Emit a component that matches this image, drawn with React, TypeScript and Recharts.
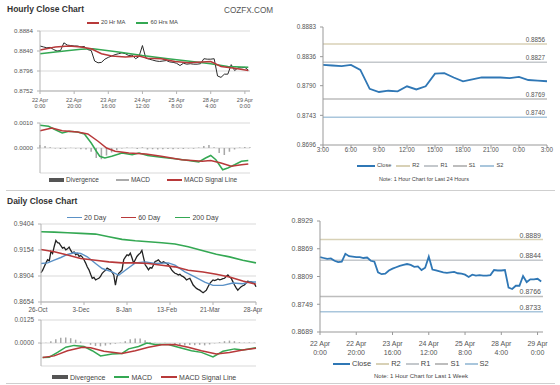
import React from "react";
import { ComposedChart, LineChart, Line, Bar, XAxis, YAxis, CartesianGrid, ReferenceLine } from "recharts";

const FONT = '"Liberation Sans", Arial, sans-serif';

// ---- hourly (last week), sampled every 2 hours from 22 Apr 0:00
const weekStep = 2;
const weekClose = [
  0.8851, 0.8849, 0.8847, 0.8848, 0.8843, 0.884, 0.8841, 0.8858, 0.8853, 0.8852,
  0.8851, 0.8851, 0.8849, 0.885, 0.8843, 0.8841, 0.8818, 0.8814, 0.8815, 0.8822,
  0.8826, 0.8829, 0.8832, 0.8834, 0.8836, 0.8834, 0.883, 0.8831, 0.8823, 0.8828,
  0.8852, 0.8824, 0.8822, 0.882, 0.8818, 0.8817, 0.8818, 0.8819, 0.8816, 0.8815,
  0.8813, 0.8808, 0.8813, 0.8811, 0.8812, 0.8811, 0.8811, 0.8812, 0.8823, 0.8822,
  0.8822, 0.8823, 0.8785, 0.8782, 0.8789, 0.8789, 0.881, 0.8797, 0.8803, 0.8803,
  0.8804, 0.8798,
];
const ma20Hr: [number, number][] = [
  [0, 0.8842], [9, 0.8849], [17, 0.8851], [24, 0.8849], [30, 0.8845], [36, 0.8834],
  [42, 0.8829], [50, 0.8827], [58, 0.8829], [63, 0.8824], [71, 0.8823], [79, 0.8817],
  [87, 0.8814], [95, 0.8816], [100, 0.8817], [106, 0.8806], [114, 0.8802], [122, 0.8797],
];
const ma60Hr: [number, number][] = [
  [0, 0.8834], [9, 0.8838], [17, 0.8841], [24, 0.8844], [31, 0.8845], [46, 0.8838],
  [60, 0.883], [75, 0.8823], [89, 0.8817], [100, 0.8812], [110, 0.8806], [122, 0.8804],
];
const hourDivStep = 3;
const hourDivergence = [
  0.00012, 0.00008, 0.00003, -0.00002, -0.00004, -0.00003, 0.00001, -0.00002, -0.00005, -0.00006,
  -0.00015, -0.0004, -0.00045, -0.0003, -0.00018, -0.00008, -0.00002, 0.00002, 0.00001, -0.00004,
  0.00003, -0.00006, -0.00005, -0.00006, -0.00005, -0.00004, -0.00005, -0.00003, -0.00004, -0.00002,
  -0.00003, 0.00002, 0.00008, 0.00012, 0.00003, -0.0002, -0.00028, -0.00015, -0.00006, 0.00002,
  0.00004, 0.00003,
];
const hourMacd: [number, number][] = [
  [0, 0.00091], [5, 0.00087], [9, 0.00073], [13, 0.0006], [17, 0.00067], [22, 0.00064],
  [26, 0.00056], [30, 0.0002], [33, -0.00013], [35, -0.00033], [38, -0.0004], [42, -0.00033],
  [48, -0.0002], [54, -0.00027], [58, -0.0002], [63, -0.0003], [71, -0.00037], [79, -0.00043],
  [87, -0.0005], [93, -0.00056], [97, -0.0004], [100, -0.0003], [103, -0.00047], [107, -0.00087],
  [110, -0.0008], [114, -0.00067], [118, -0.00053], [122, -0.0005],
];
const hourSignal: [number, number][] = [
  [0, 0.00069], [7, 0.0008], [13, 0.00069], [22, 0.00064], [28, 0.00056], [34, 0.00027],
  [39, 0], [44, -0.00013], [52, -0.0002], [62, -0.00024], [71, -0.00033], [83, -0.00047],
  [95, -0.00053], [100, -0.0005], [106, -0.0006], [112, -0.00073], [118, -0.00067], [122, -0.00064],
];
const weekTicks = [0, 20, 40, 60, 80, 100, 120];
const weekTickLabels = ["22 Apr\n0:00", "22 Apr\n20:00", "23 Apr\n16:00", "24 Apr\n12:00", "25 Apr\n8:00", "28 Apr\n4:00", "29 Apr\n0:00"];

// ---- last 24 hours, hourly from 3:00
const close24h = [
  0.8823, 0.8822, 0.8821, 0.8823, 0.8815, 0.8785, 0.878, 0.8782, 0.8781, 0.8789, 0.8784, 0.8789,
  0.8809, 0.881, 0.8803, 0.8797, 0.88, 0.8803, 0.8803, 0.8803, 0.8802, 0.8804, 0.8799, 0.8798, 0.8797,
];
const ticks24h = [0, 3, 6, 9, 12, 15, 18, 21, 24];
const tickLabels24h = ["3:00", "6:00", "9:00", "12:00", "15:00", "18:00", "21:00", "0:00", "3:00"];

const pivotNames = ["R2", "R1", "S1", "S2"];
const pivotColors = ["#d8d1b6", "#c4c8cc", "#bdbdbd", "#a9c6dc"];
const pivots24h = [0.8856, 0.8827, 0.8769, 0.874];
const pivotsWeek = [0.8889, 0.8844, 0.8766, 0.8733];

// ---- daily (26-Oct .. 28-Apr), trading day index
const dailyClose = [
  0.8935, 0.896, 0.8995, 0.903, 0.906, 0.905, 0.914, 0.912, 0.9188, 0.9246, 0.9225,
  0.922, 0.9195, 0.9172, 0.918, 0.9156, 0.9165, 0.9182, 0.915, 0.9124, 0.9135,
  0.9108, 0.912, 0.9092, 0.91, 0.9086, 0.906, 0.9028, 0.899, 0.8963, 0.892,
  0.8882, 0.889, 0.8866, 0.8875, 0.8882, 0.89, 0.893, 0.8946, 0.896, 0.8979,
  0.897, 0.8963, 0.894, 0.8914, 0.8817, 0.89, 0.893, 0.8945, 0.8963, 0.906,
  0.9085, 0.9108, 0.91, 0.9124, 0.908, 0.9028, 0.906, 0.9092, 0.911, 0.9124,
  0.915, 0.908, 0.9012, 0.899, 0.8963, 0.8985, 0.8979, 0.901, 0.9044, 0.905,
  0.906, 0.904, 0.9028, 0.904, 0.9034, 0.9025, 0.9012, 0.899, 0.8963, 0.8945,
  0.893, 0.8925, 0.8914, 0.892, 0.8905, 0.8898, 0.8885, 0.8866, 0.8875, 0.8882,
  0.885, 0.8817, 0.88, 0.8785, 0.8775, 0.8768, 0.8755, 0.8743, 0.8755, 0.8768,
  0.88, 0.8831, 0.885, 0.8866, 0.886, 0.8866, 0.8875, 0.8868, 0.8872, 0.8878,
  0.8882, 0.89, 0.8914, 0.8895, 0.8882, 0.885, 0.8817, 0.879, 0.8768, 0.8785,
  0.88, 0.881, 0.8817, 0.8835, 0.8854, 0.885, 0.885, 0.884, 0.8833, 0.88,
];
const ma20Day: [number, number][] = [
  [0, 0.9024], [4, 0.903], [8, 0.9056], [12, 0.9082], [16, 0.9111], [20, 0.9127], [24, 0.9121],
  [28, 0.9089], [33, 0.9024], [37, 0.8976], [43, 0.8944], [47, 0.8911], [51, 0.8959], [57, 0.903],
  [63, 0.904], [69, 0.9024], [77, 0.903], [81, 0.9008], [87, 0.8944], [93, 0.8895], [99, 0.8846],
  [104, 0.8814], [110, 0.8814], [116, 0.8836], [122, 0.883], [126, 0.8846], [130, 0.8846],
];
const ma60Day: [number, number][] = [
  [0, 0.9159], [8, 0.9137], [16, 0.9105], [24, 0.9073], [33, 0.9056], [41, 0.904], [49, 0.903],
  [57, 0.903], [65, 0.9024], [73, 0.9008], [81, 0.8992], [89, 0.8959], [98, 0.8943], [106, 0.8921],
  [114, 0.8895], [122, 0.8856], [130, 0.8824],
];
const ma200Day: [number, number][] = [
  [0, 0.933], [8, 0.9326], [16, 0.932], [24, 0.9314], [33, 0.9307], [41, 0.9282], [49, 0.9256],
  [57, 0.9243], [65, 0.9234], [73, 0.9224], [81, 0.9211], [89, 0.9185], [98, 0.9146], [106, 0.9114],
  [114, 0.9088], [122, 0.9056], [130, 0.903],
];
const dayDivStep = 3;
const dayDivergence = [
  -0.0003, 0.0002, 0.001, 0.002, 0.0028, 0.003, 0.0026, 0.0018, 0.0008, 0.0,
  -0.001, -0.0016, -0.0018, -0.0014, -0.0008, -0.0004, 0.0002, 0.001, 0.002, 0.0025,
  0.0024, 0.0015, 0.0006, 0.0002, -0.0002, 0.0001, -0.0003, -0.0008, -0.0012, -0.0013,
  -0.0011, -0.0012, -0.001, -0.0013, -0.0008, -0.0002, 0.0004, 0.001, 0.0013, 0.001,
  0.0004, 0.0002, 0.0003, 0.0002,
];
const dayMacd: [number, number][] = [
  [1, -0.0079], [5, -0.0077], [10, -0.0051], [15, -0.0023], [20, -0.0013], [26, -0.0019],
  [31, -0.0042], [36, -0.007], [43, -0.006], [49, -0.0057], [53, -0.0032], [59, -0.0019],
  [64, 0.0], [69, -0.0008], [77, -0.0008], [83, -0.0023], [91, -0.0042], [97, -0.0051],
  [104, -0.0076], [110, -0.0045], [117, -0.0032], [122, -0.0038], [130, -0.0026],
];
const daySignal: [number, number][] = [
  [1, -0.0079], [8, -0.007], [16, -0.0042], [25, -0.0023], [30, -0.0026], [38, -0.0045],
  [49, -0.0057], [57, -0.0042], [65, -0.0023], [73, -0.0009], [81, -0.0008], [89, -0.0023],
  [97, -0.0042], [106, -0.006], [114, -0.0051], [122, -0.0038], [130, -0.0028],
];
const dailyTicks = [0, 26, 52, 78, 104, 130];
const dailyTickLabels = ["26-Oct", "3-Dec", "8-Jan", "13-Feb", "21-Mar", "28-Apr"];

const RED = "#b8393a";
const GREEN = "#34a853";
const BLUE = "#5b91c6";
const CLOSE_BLUE = "#2f77b5";
const GRID = "#d9d9d9";
const AXIS = "#b3b3b3";
const TXT = "#555";

const pts = (p: [number, number][]) => p.map(([x, v]) => ({ x, v }));
const stepped = (vals: number[], step: number) => vals.map((v, i) => ({ x: i * step, v }));
const fmt4 = (v: number) => v.toFixed(4);

function TwoLineTick(props: any) {
  const { x, y, payload, ticks, labels, fontSize, gap } = props;
  const idx = ticks.indexOf(payload.value);
  const [a, b] = (labels[idx] ?? "").split("\n");
  return (
    <text x={x} y={y} textAnchor="middle" fontSize={fontSize} fill={TXT}>
      <tspan x={x} dy="0.71em">{a}</tspan>
      <tspan x={x} dy={gap}>{b}</tspan>
    </text>
  );
}

function OneLineTick(props: any) {
  const { x, y, payload, ticks, labels, fontSize, shift } = props;
  const idx = ticks.indexOf(payload.value);
  return (
    <text x={x + (shift ?? 0)} y={y} dy="0.71em" textAnchor="middle" fontSize={fontSize} fill={TXT}>
      {labels[idx]}
    </text>
  );
}

type Item = { label: string; color: string; w?: number; h?: number };

function LegendRow({ items, left, cy, fontSize, gap }: { items: Item[]; left: number; cy: number; fontSize: number; gap: number }) {
  return (
    <div style={{ position: "absolute", left, top: cy - fontSize / 2 - 1, display: "flex", alignItems: "center", gap, fontSize, lineHeight: `${fontSize + 2}px`, color: "#444", whiteSpace: "nowrap" }}>
      {items.map((it) => (
        <div key={it.label} style={{ display: "flex", alignItems: "center" }}>
          <span style={{ display: "inline-block", width: it.w ?? 14, height: it.h ?? 1.5, background: it.color, marginRight: 2 }} />
          <span>{it.label}</span>
        </div>
      ))}
    </div>
  );
}

function Text({ left, cy, size, children, bold, color, center }: any) {
  return (
    <div style={{ position: "absolute", left, top: cy - size * 0.6, fontSize: size, lineHeight: `${size * 1.2}px`, fontWeight: bold ? 700 : 400, color: color ?? "#333", whiteSpace: "nowrap", transform: center ? "translateX(-50%)" : undefined }}>
      {children}
    </div>
  );
}

const yTick = (size: number) => ({ fontSize: size, fill: TXT });

function HourlyPrice() {
  return (
    <div style={{ position: "absolute", left: 0, top: 15 }}>
      <LineChart width={258} height={100} data={stepped(weekClose, weekStep)} margin={{ top: 16, right: 8, bottom: 0, left: 0 }}>
        <CartesianGrid vertical={false} stroke={GRID} />
        <XAxis type="number" dataKey="x" domain={[0, 123]} ticks={weekTicks} interval={0} height={24} tickSize={3} tickMargin={4}
          axisLine={{ stroke: AXIS }} tickLine={{ stroke: AXIS }}
          tick={(p: any) => <TwoLineTick {...p} ticks={weekTicks} labels={weekTickLabels} fontSize={5.6} gap={6} />} />
        <YAxis type="number" domain={[0.8752, 0.8884]} ticks={[0.8752, 0.8796, 0.884, 0.8884]} width={40} tickSize={3} tickMargin={4}
          tickFormatter={fmt4} tick={yTick(6.2)} axisLine={{ stroke: AXIS }} tickLine={{ stroke: AXIS }} />
        <Line dataKey="v" stroke="#2b2b2b" strokeWidth={1} dot={false} isAnimationActive={false} />
        <Line data={pts(ma60Hr)} dataKey="v" stroke={GREEN} strokeWidth={1.5} dot={false} isAnimationActive={false} />
        <Line data={pts(ma20Hr)} dataKey="v" stroke={RED} strokeWidth={1.5} dot={false} isAnimationActive={false} />
      </LineChart>
    </div>
  );
}

function HourlyMacd() {
  return (
    <div style={{ position: "absolute", left: 0, top: 110 }}>
      <ComposedChart width={258} height={65} data={stepped(hourDivergence, hourDivStep)} margin={{ top: 13, right: 8, bottom: 2, left: 0 }}>
        <CartesianGrid vertical={false} stroke={GRID} />
        <XAxis type="number" dataKey="x" domain={[0, 123]} hide />
        <YAxis type="number" domain={[-0.001, 0.001]} ticks={[-0.001, 0, 0.001]} width={40} tickSize={3} tickMargin={4}
          tickFormatter={fmt4} tick={yTick(6.2)} axisLine={{ stroke: AXIS }} tickLine={{ stroke: AXIS }} />
        <Bar dataKey="v" fill="#a8a8a8" barSize={2.5} isAnimationActive={false} />
        <Line data={pts(hourMacd)} dataKey="v" stroke={GREEN} strokeWidth={1.5} dot={false} isAnimationActive={false} />
        <Line data={pts(hourSignal)} dataKey="v" stroke={RED} strokeWidth={1.5} dot={false} isAnimationActive={false} />
      </ComposedChart>
    </div>
  );
}

function PivotChart({ top, height, data, xDomain, xTicks, xTickEl, xHeight, yDomain, yTicks, yWidth, right, pivots, labelSize, xTickMargin }: any) {
  return (
    <div style={{ position: "absolute", left: 280, top }}>
      <LineChart width={280} height={height} data={data} margin={{ top: yDomain.top, right, bottom: 0, left: 0 }}>
        <XAxis type="number" dataKey="x" domain={xDomain} ticks={xTicks} interval={0} height={xHeight} tickSize={3} tickMargin={xTickMargin}
          axisLine={{ stroke: "#999" }} tickLine={{ stroke: "#999" }} tick={xTickEl} />
        <YAxis type="number" domain={yDomain.range} ticks={yTicks} width={yWidth} tickSize={3} tickMargin={4}
          tickFormatter={fmt4} tick={yTick(labelSize)} axisLine={{ stroke: "#999" }} tickLine={{ stroke: "#999" }} />
        {pivots.map((p: number, i: number) => (
          <ReferenceLine key={pivotNames[i]} y={p} stroke={pivotColors[i]} strokeWidth={1.5}
            label={{ value: fmt4(p), position: "insideBottomRight", offset: 2, fontSize: labelSize, fill: TXT }} />
        ))}
        <Line dataKey="v" stroke={CLOSE_BLUE} strokeWidth={1.8} dot={false} isAnimationActive={false} />
      </LineChart>
    </div>
  );
}

function DailyPrice() {
  return (
    <div style={{ position: "absolute", left: 0, top: 205 }}>
      <LineChart width={272} height={113} data={stepped(dailyClose, 1)} margin={{ top: 19, right: 16, bottom: 0, left: 0 }}>
        <CartesianGrid vertical={false} stroke={GRID} />
        <XAxis type="number" dataKey="x" domain={[0, 130]} ticks={dailyTicks} interval={0} height={16} tickSize={3} tickMargin={3}
          axisLine={{ stroke: AXIS }} tickLine={{ stroke: AXIS }}
          tick={(p: any) => <OneLineTick {...p} ticks={dailyTicks} labels={dailyTickLabels} fontSize={6.3} shift={-3} />} />
        <YAxis type="number" domain={[0.8654, 0.9404]} ticks={[0.8654, 0.8904, 0.9154, 0.9404]} width={41} tickSize={3} tickMargin={4}
          tickFormatter={fmt4} tick={yTick(6.6)} axisLine={{ stroke: AXIS }} tickLine={{ stroke: AXIS }} />
        <Line dataKey="v" stroke="#222" strokeWidth={1.3} dot={false} isAnimationActive={false} />
        <Line data={pts(ma200Day)} dataKey="v" stroke={GREEN} strokeWidth={1.6} dot={false} isAnimationActive={false} />
        <Line data={pts(ma20Day)} dataKey="v" stroke={BLUE} strokeWidth={1.4} dot={false} isAnimationActive={false} />
        <Line data={pts(ma60Day)} dataKey="v" stroke={RED} strokeWidth={1.6} dot={false} isAnimationActive={false} />
      </LineChart>
    </div>
  );
}

function DailyMacd() {
  return (
    <div style={{ position: "absolute", left: 0, top: 306 }}>
      <ComposedChart width={272} height={62} data={stepped(dayDivergence, dayDivStep)} margin={{ top: 14, right: 16, bottom: 2, left: 0 }}>
        <CartesianGrid vertical={false} stroke={GRID} />
        <XAxis type="number" dataKey="x" domain={[0, 130]} hide />
        <YAxis type="number" domain={[-0.0125, 0.0125]} ticks={[-0.0125, 0, 0.0125]} width={41} tickSize={3} tickMargin={4}
          tickFormatter={fmt4} tick={yTick(6.4)} axisLine={{ stroke: AXIS }} tickLine={{ stroke: AXIS }} />
        <Bar dataKey="v" fill="#a8a8a8" barSize={2.5} isAnimationActive={false} />
        <Line data={pts(dayMacd)} dataKey="v" stroke={GREEN} strokeWidth={1.5} dot={false} isAnimationActive={false} />
        <Line data={pts(daySignal)} dataKey="v" stroke={RED} strokeWidth={1.5} dot={false} isAnimationActive={false} />
      </ComposedChart>
    </div>
  );
}

const pivotLegend = (w: number): Item[] => [
  { label: "Close", color: CLOSE_BLUE, w: w + 4, h: 2 },
  ...pivotNames.map((n, i) => ({ label: n, color: pivotColors[i], w })),
];

export default function App() {
  return (
    <div style={{ position: "absolute", left: 0, top: 0, width: 560, height: 385, background: "#fff", fontFamily: FONT, overflow: "hidden" }}>
      <Text left={7} cy={9} size={8.5} bold>Hourly Close Chart</Text>
      <Text left={224} cy={11} size={8.2} color="#555">COZFX.COM</Text>
      <LegendRow left={87} cy={23} fontSize={5.8} gap={11} items={[{ label: "20 Hr MA", color: RED, w: 12 }, { label: "60 Hrs MA", color: GREEN, w: 12 }]} />
      <HourlyPrice />
      <HourlyMacd />
      <LegendRow left={49} cy={180} fontSize={6.5} gap={17} items={[{ label: "Divergence", color: "#555", w: 15, h: 4 }, { label: "MACD", color: "#aaa", w: 13 }, { label: "MACD Signal Line", color: RED, w: 15 }]} />

      <PivotChart top={10} height={147} data={stepped(close24h, 1)} xDomain={[0, 24]} xTicks={ticks24h} xHeight={12} xTickMargin={0}
        xTickEl={(p: any) => <OneLineTick {...p} ticks={ticks24h} labels={tickLabels24h} fontSize={6.3} />}
        yDomain={{ range: [0.8696, 0.8883], top: 17 }} yTicks={[0.8696, 0.8743, 0.879, 0.8836, 0.8883]} yWidth={43} right={13}
        pivots={pivots24h} labelSize={6.3} />
      <LegendRow left={357} cy={166} fontSize={5.6} gap={5} items={pivotLegend(14)} />
      <Text left={424} cy={179} size={5.5} color="#444" center>Note: 1 Hour Chart for Last 24 Hours</Text>

      <div style={{ position: "absolute", left: 6, top: 190, width: 549, height: 1, background: "#cfcfcf" }} />

      <Text left={7} cy={201} size={8.5} bold>Daily Close Chart</Text>
      <LegendRow left={67} cy={217.5} fontSize={7} gap={15} items={[{ label: "20 Day", color: BLUE, w: 15 }, { label: "60 Day", color: RED, w: 15 }, { label: "200 Day", color: GREEN, w: 15 }]} />
      <DailyPrice />
      <DailyMacd />
      <LegendRow left={52} cy={377} fontSize={7} gap={9} items={[{ label: "Divergence", color: "#555", w: 16, h: 4 }, { label: "MACD", color: GREEN, w: 15 }, { label: "MACD Signal Line", color: RED, w: 16 }]} />

      <PivotChart top={205} height={151} data={stepped(weekClose, weekStep)} xDomain={[0, 123]} xTicks={weekTicks} xHeight={24} xTickMargin={6.5}
        xTickEl={(p: any) => <TwoLineTick {...p} ticks={weekTicks} labels={weekTickLabels} fontSize={7} gap={9} />}
        yDomain={{ range: [0.8689, 0.8929], top: 16 }} yTicks={[0.8689, 0.8749, 0.8809, 0.8869, 0.8929]} yWidth={40} right={17}
        pivots={pivotsWeek} labelSize={7} />
      <LegendRow left={333} cy={364} fontSize={7.5} gap={5} items={pivotLegend(13)} />
      <Text left={421} cy={377} size={6} color="#444" center>Note: 1 Hour Chart for Last 1 Week</Text>

      <div style={{ position: "absolute", left: 6, top: 383, width: 549, height: 1, background: "#cfcfcf" }} />
    </div>
  );
}
